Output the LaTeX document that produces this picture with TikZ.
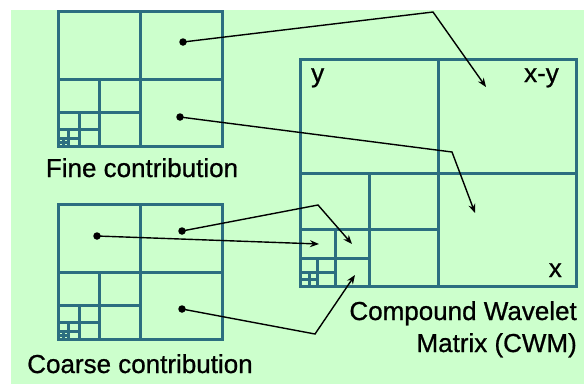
\documentclass[tikz,border=0pt]{standalone}
\usepackage{fontspec}
\setmainfont[FakeBold=0.8]{Liberation Sans}
\usetikzlibrary{arrows.meta}
\definecolor{bgc}{RGB}{204,255,204}
\definecolor{gridc}{RGB}{44,110,128}
\tikzset{
  gridline/.style={draw=gridc, line width=3.5pt},
  gridthin/.style={draw=gridc, line width=2.5pt},
  dot/.style={circle, fill=black, inner sep=0pt, minimum size=7.5pt},
  lbl/.style={inner sep=0pt, font=\fontsize{26}{32}\selectfont},
  conn/.style={line width=1.4pt, -{Stealth[length=9pt,width=7pt]}},
}
\newcommand\wavlevel[6]{% x0, ytop, W, H, level, style
  \pgfmathsetmacro{\wavwa}{#3/2^(#5-1)}%
  \pgfmathsetmacro{\wavha}{#4/2^(#5-1)}%
  \pgfmathsetmacro{\wavx}{floor(#1+\wavwa/2)+0.5}%
  \pgfmathsetmacro{\wavy}{floor(#2+#4-\wavha/2)+0.5}%
  \draw[#6] (\wavx, #2+#4-\wavha) -- (\wavx, #2+#4);
  \draw[#6] (#1, \wavy) -- (#1+\wavwa, \wavy);
}
\newcommand\wavgrid[4]{%
  \wavlevel{#1}{#2}{#3}{#4}{1}{gridline}
  \wavlevel{#1}{#2}{#3}{#4}{2}{gridline}
  \wavlevel{#1}{#2}{#3}{#4}{3}{gridline}
  \wavlevel{#1}{#2}{#3}{#4}{4}{gridthin}
  \wavlevel{#1}{#2}{#3}{#4}{5}{gridthin}
  \draw[gridline] (#1,#2) rectangle ++(#3,#4);
}
\begin{document}
\begin{tikzpicture}[x=1pt,y=-1pt]
\useasboundingbox (0,0) rectangle (584,384);
\fill[bgc] (11,10) rectangle (584,384);

% grids
\wavgrid{58.5}{11.5}{164}{135}
\wavgrid{58.5}{204.5}{164}{135}
\wavgrid{300.5}{59.5}{276}{227}

% labels
\node[lbl, anchor=base] (fine) at (142,177) {Fine contribution};
\node[lbl, anchor=base] (coarse) at (140,373) {Coarse contribution};
\node[lbl, anchor=base east] (cwm1) at (577,320) {Compound Wavelet};
\node[lbl, anchor=base east] (cwm2) at (577,352) {Matrix (CWM)};
\node[lbl, anchor=base west] (ly) at (311,82) {y};
\node[lbl, anchor=base east] (lxy) at (559,82) {x-y};
\node[lbl, anchor=base east] (lx) at (562,277) {x};

% dots
\node[dot] (f1) at (183,42) {};
\node[dot] (f2) at (180,117) {};
\node[dot] (c1) at (97,236) {};
\node[dot] (c2) at (182,231) {};
\node[dot] (c3) at (182,309) {};

% bends and targets
\coordinate (b1) at (433,12);
\coordinate (t1) at (486,87);
\coordinate (b2) at (452,152);
\coordinate (t2) at (475,213);
\coordinate (b3) at (318,205);
\coordinate (t3) at (352,244);
\coordinate (t4) at (319,244);
\coordinate (b5) at (315,334);
\coordinate (t5) at (355,275);

\draw[conn] (f1.center) -- (b1) -- (t1);
\draw[conn] (f2.center) -- (b2) -- (t2);
\draw[conn] (c2.center) -- (b3) -- (t3);
\draw[conn] (c1.center) -- (t4);
\draw[conn] (c3.center) -- (b5) -- (t5);
\end{tikzpicture}
\end{document}
